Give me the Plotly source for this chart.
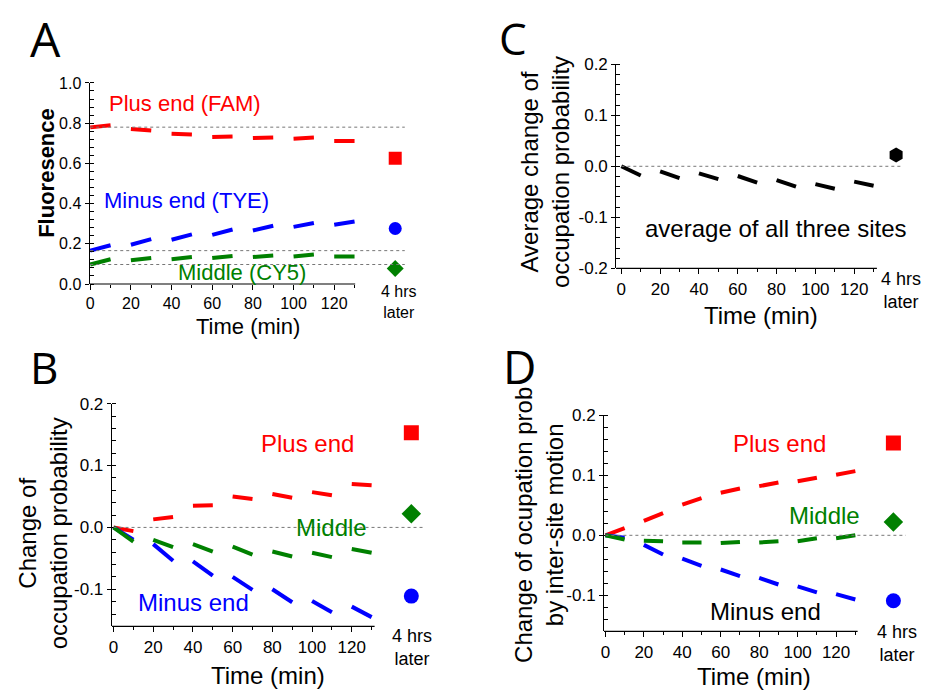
import plotly.graph_objects as go

# Zeitachse (min): Messsegmente 0-10, 20-30, ..., 120-130
TIME = [0, 10, 20, 30, 40, 50, 60, 70, 80, 90, 100, 110, 120, 130]

# Panel A: Fluoreszenz
A_PLUS = [0.779, 0.790, 0.771, 0.763, 0.747, 0.744, 0.731, 0.734, 0.726, 0.729, 0.723, 0.728, 0.711, 0.711]
A_MINUS = [0.166, 0.193, 0.195, 0.223, 0.220, 0.247, 0.244, 0.271, 0.266, 0.290, 0.284, 0.303, 0.295, 0.311]
A_MIDDLE = [0.097, 0.123, 0.118, 0.129, 0.123, 0.134, 0.129, 0.139, 0.134, 0.142, 0.137, 0.147, 0.137, 0.137]
A_LATER = [0.626, 0.276, 0.077]          # plus, minus, middle
A_REF = [0.780, 0.166, 0.097]

# Panel B: change of occupation probability
B_PLUS = [0.0, -0.006, 0.013, 0.017, 0.035, 0.036, 0.050, 0.046, 0.054, 0.048, 0.057, 0.052, 0.070, 0.068]
B_MIDDLE = [0.0, -0.023, -0.020, -0.032, -0.027, -0.039, -0.031, -0.044, -0.039, -0.047, -0.041, -0.048, -0.035, -0.041]
B_MINUS = [0.0, -0.020, -0.027, -0.054, -0.055, -0.078, -0.080, -0.101, -0.100, -0.121, -0.119, -0.137, -0.128, -0.145]
B_LATER = [0.153, 0.022, -0.111]         # plus, middle, minus

# Panel C: average of all three sites
C_AVG = [0.0, -0.018, -0.010, -0.023, -0.014, -0.025, -0.019, -0.032, -0.027, -0.040, -0.035, -0.044, -0.030, -0.038]
C_LATER = [0.022]

# Panel D: by inter-site motion
D_PLUS = [0.0, 0.012, 0.024, 0.037, 0.051, 0.062, 0.071, 0.078, 0.082, 0.088, 0.090, 0.096, 0.101, 0.107]
D_MIDDLE = [0.0, -0.007, -0.009, -0.010, -0.012, -0.012, -0.013, -0.011, -0.012, -0.010, -0.010, -0.005, -0.005, 0.0]
D_MINUS = [0.0, -0.004, -0.016, -0.032, -0.039, -0.051, -0.057, -0.068, -0.071, -0.082, -0.085, -0.095, -0.098, -0.107]
D_LATER = [0.154, 0.022, -0.109]         # plus, middle, minus

# Position der Spalte "4 hrs later" auf der Zeitachse
LATER_T = {"A": 150, "B": 150, "C": 141.6, "D": 149.8}

RED = "#ff0000"
BLUE = "#0000ff"
GREEN = "#008000"
BLACK = "#000000"
FONT = "Liberation Sans, Arial, sans-serif"
LETTER_FONT = "Open Sans, Noto Sans, sans-serif"

W, H = 926, 698

# Panel-Geometrie in Pixeln (links, rechts, oben, unten)
PANELS = {
    "A": dict(n=1, box=(86, 410, 76, 282.7), x0=-0.3, scale=2.042, yr=[0, 1.0],
              yticks=[0, 0.2, 0.4, 0.6, 0.8, 1.0], minor=0.04, axis_end=130.3,
              ref_end=154.7, tickfont=16),
    "B": dict(n=2, box=(108.3, 430, 405.7, 634.7), x0=-0.85, scale=1.994, yr=[-0.16, 0.2],
              yticks=[-0.1, 0, 0.1, 0.2], minor=0.02, axis_end=131.5,
              ref_end=156.3, tickfont=17),
    "C": dict(n=3, box=(615, 915, 56.7, 266.7), x0=-2.57, scale=1.949, yr=[-0.2, 0.2],
              yticks=[-0.2, -0.1, 0, 0.1, 0.2], minor=0.02, axis_end=131.7,
              ref_end=145.2, tickfont=17),
    "D": dict(n=4, box=(602.7, 915, 417.7, 639.7), x0=-0.67, scale=1.931, yr=[-0.16, 0.2],
              yticks=[-0.1, 0, 0.1, 0.2], minor=0.02, axis_end=131.2,
              ref_end=156.2, tickfont=17),
}


def fx(p):
    return p / W


def fy(p):
    return 1 - p / H


def segmented(values):
    """Paare (0-10, 20-30, ...) mit Lücken dazwischen."""
    xs, ys = [], []
    for i in range(0, len(TIME), 2):
        xs += [TIME[i], TIME[i + 1], None]
        ys += [values[i], values[i + 1], None]
    return xs, ys


fig = go.Figure()
shapes = []
annotations = []

for key, p in PANELS.items():
    n = p["n"]
    sfx = "" if n == 1 else str(n)
    left, right, top, bottom = p["box"]
    x_end = p["x0"] + (right - left) / p["scale"]
    fig.layout["xaxis" + sfx] = dict(
        domain=[fx(left), fx(right)], range=[p["x0"], x_end], anchor="y" + sfx,
        showline=False, showgrid=False, zeroline=False,
        tickvals=[0, 20, 40, 60, 80, 100, 120], ticks="outside", ticklen=5,
        tickcolor=BLACK, tickwidth=1,
        minor=dict(tickvals=[10, 30, 50, 70, 90, 110, 130], ticks="outside",
                   ticklen=3, tickcolor=BLACK),
        tickfont=dict(family=FONT, size=p["tickfont"], color=BLACK),
    )
    fig.layout["yaxis" + sfx] = dict(
        domain=[fy(bottom), fy(top)], range=p["yr"], anchor="x" + sfx,
        showline=True, linecolor=BLACK, linewidth=1.2, showgrid=False, zeroline=False,
        tickvals=p["yticks"], ticktext=[f"{v:.1f}".replace("-0.0", "0.0") for v in p["yticks"]],
        ticks="outside", ticklen=4, tickcolor=BLACK,
        minor=dict(dtick=p["minor"], tick0=0, ticks="inside", ticklen=4, tickcolor=BLACK),
        tickfont=dict(family=FONT, size=p["tickfont"], color=BLACK),
    )
    # x-Achsenlinie nur bis zum Ende der Messung
    shapes.append(dict(type="line", xref="x" + sfx, yref="y" + sfx + " domain",
                       x0=p["x0"], x1=p["axis_end"], y0=0, y1=0,
                       line=dict(color=BLACK, width=1.2)))
    refs = A_REF if key == "A" else [0.0]
    for lvl in refs:
        shapes.append(dict(type="line", xref="x" + sfx, yref="y" + sfx,
                           x0=0, x1=p["ref_end"], y0=lvl, y1=lvl,
                           line=dict(color="#777777", width=1, dash="dot")))


def add_series(values, color, n):
    sfx = "" if n == 1 else str(n)
    xs, ys = segmented(values)
    fig.add_trace(go.Scatter(x=xs, y=ys, mode="lines", connectgaps=False,
                             line=dict(color=color, width=4),
                             xaxis="x" + sfx, yaxis="y" + sfx, showlegend=False))


def add_later(values, colors, symbols, key, size):
    n = PANELS[key]["n"]
    sfx = "" if n == 1 else str(n)
    fig.add_trace(go.Scatter(x=[LATER_T[key]] * len(values), y=values, mode="markers",
                             marker=dict(color=colors, symbol=symbols, size=size),
                             xaxis="x" + sfx, yaxis="y" + sfx, showlegend=False))


# A
add_series(A_PLUS, RED, 1)
add_series(A_MINUS, BLUE, 1)
add_series(A_MIDDLE, GREEN, 1)
add_later(A_LATER, [RED, BLUE, GREEN], ["square", "circle", "diamond"], "A", 13)
# B
add_series(B_PLUS, RED, 2)
add_series(B_MINUS, BLUE, 2)
add_series(B_MIDDLE, GREEN, 2)
add_later(B_LATER, [RED, GREEN, BLUE], ["square", "diamond", "circle"], "B", 15)
# C
add_series(C_AVG, BLACK, 3)
add_later(C_LATER, [BLACK], ["hexagon"], "C", 15)
# D
add_series(D_PLUS, RED, 4)
add_series(D_MINUS, BLUE, 4)
add_series(D_MIDDLE, GREEN, 4)
add_later(D_LATER, [RED, GREEN, BLUE], ["square", "diamond", "circle"], "D", 15)


def note(text, x, y, size, color=BLACK, xanchor="center", angle=0, family=FONT):
    annotations.append(dict(text=text, x=fx(x), y=fy(y), xref="paper", yref="paper",
                            xanchor=xanchor, yanchor="middle", showarrow=False,
                            textangle=angle, align="center",
                            font=dict(family=family, size=size, color=color)))


# Panel-Buchstaben
note("A", 42, 30, 48, family=LETTER_FONT)
note("B", 40.5, 368, 44, family=LETTER_FONT)
note("C", 511, 30, 44, family=LETTER_FONT)
note("D", 517.5, 367, 46, family=LETTER_FONT)

# A
note("Plus end (FAM)", 103, 96.7, 22, RED, xanchor="left")
note("Minus end (TYE)", 98, 197, 22, BLUE, xanchor="left")
note("Middle (CY5)", 173, 270.7, 22, GREEN, xanchor="left")
note("4 hrs<br>later", 396.7, 301.4, 16)
note("Time (min)", 244.7, 326.7, 22)
note("<b>Fluoresence</b>", 43.3, 168.3, 22, angle=-90)

# B
note("Plus end", 304.5, 446.7, 24, RED)
note("Middle", 328.7, 532.7, 24, GREEN)
note("Minus end", 190.5, 610, 24, BLUE)
note("4 hrs<br>later", 409.3, 656.3, 18)
note("Time (min)", 264.7, 685, 24)
note("Change of<br>occupation probability", 39.2, 539, 24, angle=-90)

# C
note("average of all three sites", 774.7, 226, 24)
note("4 hrs<br>later", 901, 289.5, 18)
note("Time (min)", 760, 315, 24)
note("Average change of<br>occupation probability", 544, 168, 24, angle=-90)

# D
note("Plus end", 778.7, 446.7, 24, RED)
note("Middle", 824, 521, 24, GREEN)
note("Minus end", 764.5, 619.3, 24)
note("4 hrs<br>later", 897.3, 652.5, 18)
note("Time (min)", 753.7, 686, 24)
note("Change of ocupation prob<br>by inter-site motion", 536.7, 530, 24, angle=-90)

fig.update_layout(
    width=W, height=H, autosize=False,
    margin=dict(l=0, r=0, t=0, b=0),
    paper_bgcolor="white", plot_bgcolor="white",
    shapes=shapes, annotations=annotations,
    font=dict(family=FONT, color=BLACK),
)

# Seitenrand entfernen, damit die Figur genau das Fenster füllt
fig.write_html(
    "out.html",
    config={"displayModeBar": False},
    post_script="document.body.style.margin='0';"
                "document.body.style.overflow='hidden';"
                "document.documentElement.style.overflow='hidden';",
)
